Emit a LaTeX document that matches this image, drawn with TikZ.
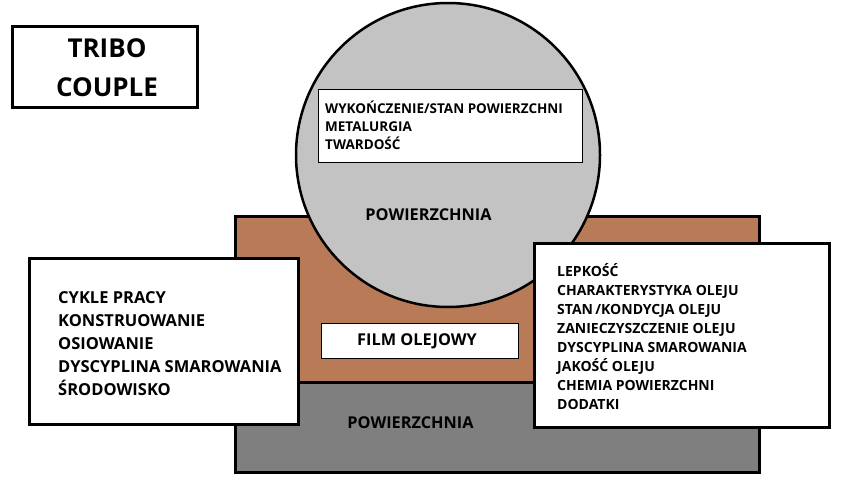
\documentclass[tikz,border=0pt]{standalone}
\usepackage{fontspec}
\setmainfont{Open Sans}
\usetikzlibrary{positioning}
\definecolor{silver}{HTML}{C3C3C3}
\definecolor{clay}{HTML}{B97A57}
\definecolor{slate}{HTML}{7F7F7F}
\tikzset{
    plate/.style={
           draw=black, line width=3pt,
           inner sep=0pt,
           },
    frame/.style={
           draw=black, line width=3pt,
           fill=white, inner sep=0pt,
           },
    tag/.style={
           draw=black, line width=0.8pt,
           fill=white, inner sep=0pt,
           },
    list/.style={
           align=left, inner sep=0pt, anchor=west,
           },
    caption/.style={
           inner sep=0pt, font=\bfseries\fontsize{16.3}{18}\selectfont,
           },
}

\begin{document}
\begin{tikzpicture}[x=1pt,y=-1pt]
\useasboundingbox (0,0) rectangle (858,487);
\node[plate, fill=clay, minimum width=524pt, minimum height=166pt] (oilbed) at (497,299) {};
\node[plate, fill=slate, minimum width=524pt, minimum height=90pt] (lower) at (497,427) {};
\node[circle, plate, line width=2.5pt, fill=silver, minimum size=304pt] (ball) at (448,155) {};
\node[tag, minimum width=264pt, minimum height=73pt] (ballbox) at (450,125.5) {};
\node[list, font=\bfseries\fontsize{13.5}{18}\selectfont] (balltext) at (325,125.5)
    {WYKOŃCZENIE/STAN POWIERZCHNI\\METALURGIA\\TWARDOŚĆ};
\node[caption] (ballsurf) at (428.5,215) {POWIERZCHNIA};
\node[tag, minimum width=197pt, minimum height=35pt] (filmbox) at (419.5,340.5) {};
\node[caption] (filmtext) at (417,341) {FILM OLEJOWY};
\node[caption] (lowersurf) at (410.5,423) {POWIERZCHNIA};
\node[frame, minimum width=185pt, minimum height=80pt] (title) at (104.5,67) {};
\node[align=center, inner sep=0pt, font=\bfseries\fontsize{26}{39}\selectfont] (titletext) at (107,67.5)
    {TRIBO\\COUPLE};
\node[frame, minimum width=269pt, minimum height=166pt] (workbox) at (163.5,341) {};
\node[list, font=\bfseries\fontsize{16.5}{23}\selectfont] (worktext) at (58,343.5)
    {CYKLE PRACY\\KONSTRUOWANIE\\OSIOWANIE\\DYSCYPLINA SMAROWANIA\\ŚRODOWISKO};
\node[frame, minimum width=295pt, minimum height=184pt] (oilbox) at (681.5,335) {};
\node[list, font=\bfseries\fontsize{14}{19}\selectfont] (oiltext) at (557,337)
    {LEPKOŚĆ\\CHARAKTERYSTYKA OLEJU\\STAN\,/KONDYCJA OLEJU\\ZANIECZYSZCZENIE OLEJU\\DYSCYPLINA SMAROWANIA\\JAKOŚĆ OLEJU\\CHEMIA POWIERZCHNI\\DODATKI};
\end{tikzpicture}
\end{document}
